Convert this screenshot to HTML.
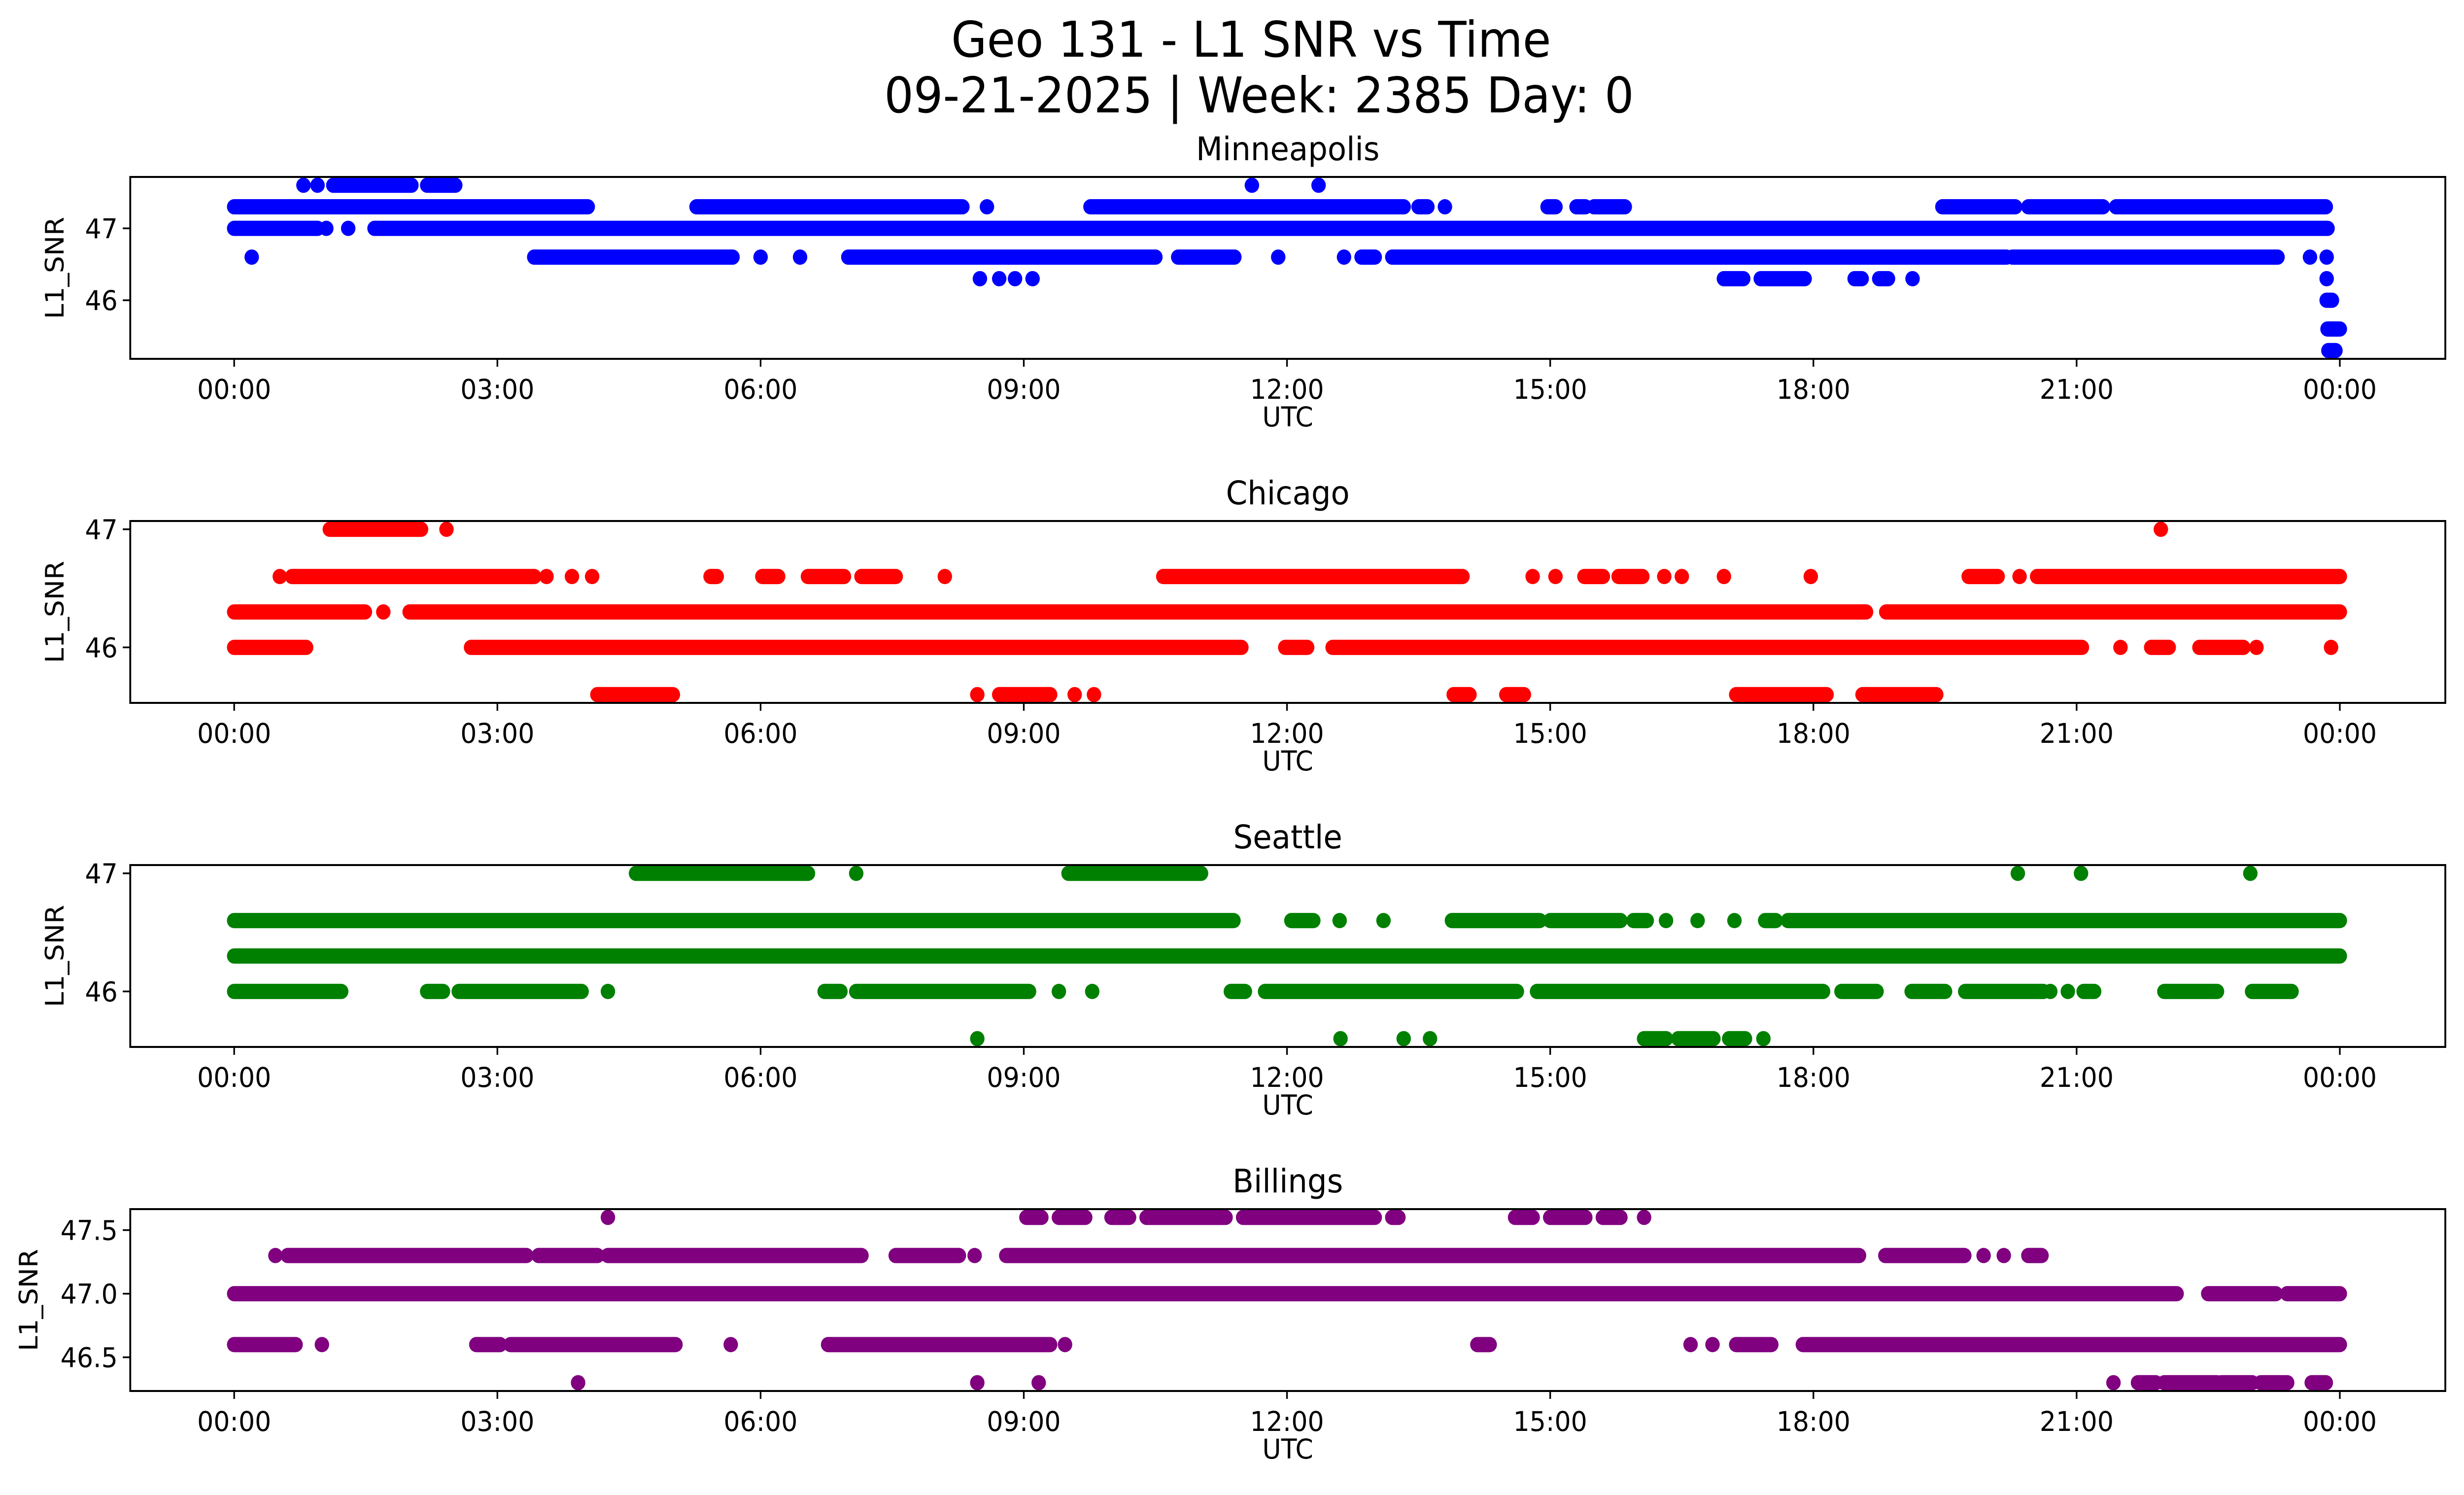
<!DOCTYPE html>
<html><head><meta charset="utf-8"><style>
html,body{margin:0;padding:0;background:#fff;overflow:hidden;width:100%;height:100%;}
svg{display:block;width:100vw;height:100vh;font-family:"DejaVu Sans","Liberation Sans",sans-serif;}
</style></head><body>
<svg id="chart" xmlns="http://www.w3.org/2000/svg" viewBox="0 0 5278 3033" preserveAspectRatio="none">
<rect width="5278" height="3033" fill="#fff"/>
<text x="2680" y="115" font-size="100" text-anchor="middle" textLength="1285" lengthAdjust="spacingAndGlyphs">Geo 131 - L1 SNR vs Time</text>
<text x="2697" y="228" font-size="100" text-anchor="middle" textLength="1606" lengthAdjust="spacingAndGlyphs">09-21-2025 | Week: 2385 Day: 0</text>
<g id="panels"></g>
</svg>
<script>
// ---- data: runs of observations [startHour, endHour] per SNR level ----
const stations = ["Minneapolis","Chicago","Seattle","Billings"];
const colors = ["#0000ff","#ff0000","#008000","#800080"];
const yTicks = [[46,47],[46,47],[46,47],[46.5,47.0,47.5]];
const yTickLabels = [["46","47"],["46","47"],["46","47"],["46.5","47.0","47.5"]];
const xTickHours = [0,3,6,9,12,15,18,21,24];
const xTickLabels = ["00:00","03:00","06:00","09:00","12:00","15:00","18:00","21:00","00:00"];

const minneapolisLevels = [47.6,47.3,47.0,46.6,46.3,46.0,45.6,45.3];
const minneapolisRuns = [
 [[0.79,0.79],[0.95,0.95],[1.13,2.02],[2.2,2.52],[11.6,11.6],[12.36,12.36]],
 [[0,4.03],[5.27,8.3],[8.58,8.58],[9.76,13.33],[13.5,13.6],[13.8,13.8],[14.97,15.06],[15.3,15.4],[15.5,15.85],[19.47,20.3],[20.45,21.3],[21.45,23.84]],
 [[0,0.95],[1.05,1.05],[1.3,1.3],[1.6,23.86]],
 [[0.2,0.2],[3.42,5.68],[6.0,6.0],[6.45,6.45],[7.0,10.5],[10.76,11.4],[11.9,11.9],[12.65,12.65],[12.85,13.0],[13.2,20.2],[20.27,23.29],[23.66,23.66],[23.85,23.85]],
 [[8.5,8.5],[8.72,8.72],[8.9,8.9],[9.1,9.1],[16.98,17.2],[17.4,17.9],[18.47,18.55],[18.75,18.85],[19.13,19.13],[23.85,23.85]],
 [[23.85,23.91]],
 [[23.86,24.0]],
 [[23.87,23.95]]
];
const chicagoLevels = [47.0,46.6,46.3,46.0,45.6];
const chicagoRuns = [
 [[1.09,2.13],[2.42,2.42],[21.96,21.96]],
 [[0.52,0.52],[0.66,3.42],[3.56,3.56],[3.85,3.85],[4.08,4.08],[5.43,5.5],[6.02,6.2],[6.54,6.95],[7.15,7.54],[8.1,8.1],[10.59,14.0],[14.8,14.8],[15.06,15.06],[15.39,15.6],[15.78,16.05],[16.3,16.3],[16.5,16.5],[16.98,16.98],[17.97,17.97],[19.77,20.1],[20.35,20.35],[20.55,24]],
 [[0,1.49],[1.7,1.7],[2.0,18.6],[18.83,24]],
 [[0,0.82],[2.7,11.48],[11.98,12.23],[12.52,21.06],[21.5,21.5],[21.85,22.05],[22.4,22.9],[23.05,23.05],[23.9,23.9]],
 [[4.14,5.0],[8.47,8.47],[8.72,9.3],[9.58,9.58],[9.8,9.8],[13.9,14.08],[14.5,14.7],[17.12,18.15],[18.56,19.4]]
];
const seattleLevels = [47.0,46.6,46.3,46.0,45.6];
const seattleRuns = [
 [[4.58,6.54],[7.09,7.09],[9.51,11.02],[20.33,20.33],[21.05,21.05],[22.98,22.98]],
 [[0,11.39],[12.05,12.3],[12.6,12.6],[13.1,13.1],[13.88,14.88],[15.0,15.8],[15.95,16.1],[16.32,16.32],[16.68,16.68],[17.1,17.1],[17.45,17.57],[17.71,24]],
 [[0,24]],
 [[0,1.22],[2.2,2.38],[2.56,3.96],[4.26,4.26],[6.73,6.91],[7.09,9.06],[9.4,9.4],[9.78,9.78],[11.36,11.52],[11.75,14.62],[14.85,18.11],[18.32,18.72],[19.12,19.5],[19.73,20.62],[20.7,20.7],[20.9,20.9],[21.08,21.2],[22.0,22.6],[23.0,23.45]],
 [[8.47,8.47],[12.61,12.61],[13.33,13.33],[13.63,13.63],[16.07,16.32],[16.46,16.86],[17.04,17.22],[17.43,17.43]]
];
const billingsLevels = [47.6,47.3,47.0,46.6,46.3];
const billingsRuns = [
 [[4.26,4.26],[9.03,9.2],[9.4,9.7],[10.0,10.2],[10.4,11.3],[11.5,13.0],[13.2,13.27],[14.6,14.8],[15.0,15.4],[15.6,15.8],[16.07,16.07]],
 [[0.47,0.47],[0.61,3.33],[3.47,4.14],[4.26,7.15],[7.54,8.26],[8.44,8.44],[8.8,18.52],[18.82,19.72],[19.94,19.94],[20.17,20.17],[20.45,20.6]],
 [[0,22.14],[22.5,23.27],[23.4,24]],
 [[0,0.7],[1.0,1.0],[2.76,3.03],[3.15,5.03],[5.66,5.66],[6.77,9.3],[9.47,9.47],[14.17,14.31],[16.6,16.6],[16.85,16.85],[17.12,17.52],[17.88,24]],
 [[3.92,3.92],[8.47,8.47],[9.17,9.17],[21.42,21.42],[21.7,21.9],[22.0,22.6],[22.65,23.0],[23.1,23.4],[23.68,23.84]]
];
const levelsAll = [minneapolisLevels,chicagoLevels,seattleLevels,billingsLevels];
const runsAll = [minneapolisRuns,chicagoRuns,seattleRuns,billingsRuns];

// ---- layout ----
const NS="http://www.w3.org/2000/svg";
const L=279,R=5238,X0=501.6,X24=5012,H=369,R0=15.5;
const tops=[359,1057,1755,2453];
const xScale=h=>X0+(X24-X0)*h/24;
const g=document.getElementById('panels');
function mk(tag,attrs,parent){const e=document.createElementNS(NS,tag);for(const k in attrs)e.setAttribute(k,attrs[k]);(parent||g).appendChild(e);return e;}

stations.forEach((name,i)=>{
  const top=tops[i],bot=top+H;
  const lv=levelsAll[i];
  const mn=Math.min(...lv),mx=Math.max(...lv),pad=(mx-mn)*0.05;
  const y0=mn-pad,y1=mx+pad;
  const yScale=v=>bot-(v-y0)/(y1-y0)*H;
  const grp=mk('g',{});
  
  
  const pts=mk('g',{},grp);
  
  
  runsAll[i].forEach((runs,li)=>{
    const y=yScale(lv[li]);
    runs.forEach(r=>{
      const ln=mk('line',{x1:xScale(r[0]),x2:xScale(r[1]),y1:y,y2:y,stroke:colors[i],'stroke-width':2*R0,'stroke-linecap':'round'},pts);
      
      
    });
  });
  const frame=mk('rect',{x:L,y:top,width:R-L,height:H,fill:'none',stroke:'#000','stroke-width':4},grp);
  
  
  xTickHours.forEach((h,k)=>{
    const x=xScale(h);
    mk('line',{x1:x,x2:x,y1:bot,y2:bot+16,stroke:'#000','stroke-width':3.5},grp);
    const t=mk('text',{x:x,y:bot+81,'font-size':55,'text-anchor':'middle'},grp);
    t.textContent=xTickLabels[k];
    
    
  });
  yTicks[i].forEach((v,k)=>{
    const y=yScale(v);
    mk('line',{x1:L-16,x2:L,y1:y,y2:y,stroke:'#000','stroke-width':3.5},grp);
    const t=mk('text',{x:L-27,y:y+20,'font-size':55,'text-anchor':'end'},grp);
    t.textContent=yTickLabels[i][k];
    
    
  });
  const xl=mk('text',{x:(L+R)/2,y:bot+137,'font-size':55,'text-anchor':'middle'},grp);
  xl.textContent='UTC';
  
  
  const yx = i===3 ? 80 : 136;
  const yl=mk('text',{x:yx,y:top+H/2,'font-size':55,'text-anchor':'middle',transform:`rotate(-90 ${yx} ${top+H/2})`},grp);
  yl.textContent='L1_SNR';
  
  
  const tt=mk('text',{x:(L+R)/2,y:top-34,'font-size':66,'text-anchor':'middle'},grp);
  tt.textContent=name;
  
  
});
</script>
</body></html>
